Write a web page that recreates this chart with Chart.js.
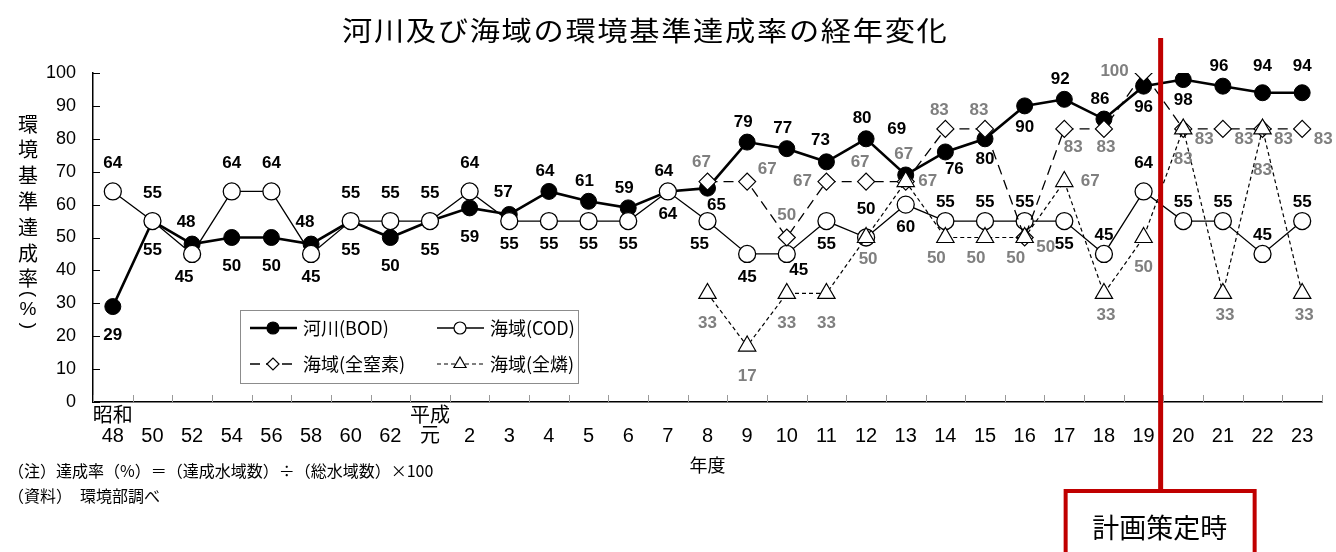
<!DOCTYPE html>
<html lang="ja">
<head>
<meta charset="utf-8">
<title>河川及び海域の環境基準達成率の経年変化</title>
<script src="https://cdn.jsdelivr.net/npm/chart.js@4.4.1/dist/chart.umd.min.js"></script>
<style>
  html, body { margin: 0; padding: 0; background: #fff; }
  #wrap { width: 1336px; height: 552px; }
</style>
</head>
<body>
<div id="wrap"><canvas id="chart" width="1336" height="552"></canvas></div>
<script>
// 年度ラベル（2行目が年）
const years = [
  ['昭和', '48'], ['', '50'], ['', '52'], ['', '54'], ['', '56'], ['', '58'], ['', '60'], ['', '62'],
  ['平成', '元'], ['', '2'], ['', '3'], ['', '4'], ['', '5'], ['', '6'], ['', '7'], ['', '8'],
  ['', '9'], ['', '10'], ['', '11'], ['', '12'], ['', '13'], ['', '14'], ['', '15'], ['', '16'],
  ['', '17'], ['', '18'], ['', '19'], ['', '20'], ['', '21'], ['', '22'], ['', '23']
];

// 達成率（%）
const riverBOD = [29, 55, 48, 50, 50, 48, 55, 50, 55, 59, 57, 64, 61, 59, 64, 65,
  79, 77, 73, 80, 69, 76, 80, 90, 92, 86, 96, 98, 96, 94, 94];
const seaCOD = [64, 55, 45, 64, 64, 45, 55, 55, 55, 64, 55, 55, 55, 55, 64, 55,
  45, 45, 55, 50, 60, 55, 55, 55, 55, 45, 64, 55, 55, 45, 55];
const seaN = [null, null, null, null, null, null, null, null, null, null, null, null, null, null, null,
  67, 67, 50, 67, 67, 67, 83, 83, 50, 83, 83, 100, 83, 83, 83, 83];
const seaP = [null, null, null, null, null, null, null, null, null, null, null, null, null, null, null,
  33, 17, 33, 33, 50, 67, 50, 50, 50, 67, 33, 50, 83, 33, 83, 33];

const seriesNames = ['河川(BOD)', '海域(COD)', '海域(全窒素)', '海域(全燐)'];
const yTicks = [0, 10, 20, 30, 40, 50, 60, 70, 80, 90, 100];

// データラベルの置き場所（a:上 b:下 r:右 l:左 など）
const bodPos = ['B','B','al','B','B','al','B','B','B','B','al','a','a','a','a','br',
  'a','a','al','a','AA','br','b','b','a','a','b','b','a','A','A'];
const codPos = ['A','A','bl','A','A','b','A','A','A','A','b','b','b','b','b','bl',
  'b','br','b','A','b','a','a','a','b','a','A','a','a','a','a'];
const nPos = [null, null, null, null, null, null, null, null, null, null, null, null, null, null, null,
  'al','r','a','l','al','A','al','al','rb','br','b','L','rb','rb','rb','rb'];
const pPos = [null, null, null, null, null, null, null, null, null, null, null, null, null, null, null,
  'B','B','B','B','b','r','bl','bl','bl','R','b','B','B','b','BB','b'];

const NUM = '"Liberation Sans", "Noto Sans CJK JP", sans-serif';
const JP = '"Noto Sans CJK JP", "Liberation Sans", sans-serif';
const GRAY = '#7f7f7f';

const datasets = [
  {
    label: seriesNames[0], data: riverBOD, order: 4,
    borderColor: '#000', borderWidth: 2.6,
    pointStyle: 'circle', pointRadius: 8, pointBackgroundColor: '#000', pointBorderColor: '#000', pointBorderWidth: 1,
    labelPos: bodPos, labelColor: '#000',
    offsets: { a: [-4, -20], A: [0, -26], al: [-6, -22], B: [0, 29], b: [0, 21], br: [9, 17], AA: [-9, -46] }
  },
  {
    label: seriesNames[1], data: seaCOD, order: 3,
    borderColor: '#000', borderWidth: 1.3,
    pointStyle: 'circle', pointRadius: 8.5, pointBackgroundColor: '#fff', pointBorderColor: '#000', pointBorderWidth: 1.3,
    labelPos: codPos, labelColor: '#000',
    offsets: { A: [0, -28], a: [0, -19], b: [0, 23], bl: [-8, 23], br: [12, 16] }
  },
  {
    label: seriesNames[2], data: seaN, order: 2,
    borderColor: '#000', borderWidth: 1.3, borderDash: [10, 6],
    pointStyle: 'rectRot', pointRadius: 8.5, pointBackgroundColor: '#fff', pointBorderColor: '#000', pointBorderWidth: 1.2,
    labelPos: nPos, labelColor: GRAY,
    offsets: { al: [-6, -19], r: [20, -12], a: [0, -22], l: [-24, 0], A: [-2, -27], rb: [21, 10], br: [9, 18], b: [2, 18], L: [-29, -2] }
  },
  {
    label: seriesNames[3], data: seaP, order: 1,
    borderColor: '#000', borderWidth: 1.2, borderDash: [4, 3],
    pointStyle: 'triangle', pointRadius: 10, pointBackgroundColor: '#fff', pointBorderColor: '#000', pointBorderWidth: 1.2,
    labelPos: pPos, labelColor: GRAY,
    offsets: { B: [0, 30], b: [2, 22], r: [22, 0], R: [26, 0], bl: [-9, 21], BB: [0, 41] }
  }
];

// 数値ラベル
const valueLabels = {
  id: 'valueLabels',
  afterDatasetsDraw(chart) {
    const ctx = chart.ctx;
    ctx.save();
    ctx.font = 'bold 17px ' + NUM;
    ctx.textAlign = 'center';
    ctx.textBaseline = 'middle';
    chart.data.datasets.forEach((ds, di) => {
      const meta = chart.getDatasetMeta(di);
      meta.data.forEach((pt, i) => {
        const v = ds.data[i];
        const code = ds.labelPos[i];
        if (v == null || !code) return;
        const off = ds.offsets[code] || [0, 0];
        ctx.fillStyle = ds.labelColor;
        ctx.fillText(String(v), pt.x + off[0], pt.y + off[1]);
      });
    });
    ctx.restore();
  }
};

// 表題・軸名・凡例・注記・計画策定時の線
const decorations = {
  id: 'decorations',
  afterDraw(chart) {
    const ctx = chart.ctx;
    const x = chart.scales.x, y = chart.scales.y;
    const area = chart.chartArea;
    ctx.save();

    // 内向きの目盛り
    const step = x.getPixelForValue(1) - x.getPixelForValue(0);
    ctx.strokeStyle = '#9a9a9a';
    ctx.lineWidth = 1;
    for (let i = 0; i <= years.length; i++) {
      const px = Math.round(x.getPixelForValue(i) - step / 2) + 0.5;
      ctx.beginPath(); ctx.moveTo(px, area.bottom); ctx.lineTo(px, area.bottom - 7); ctx.stroke();
    }
    ctx.strokeStyle = '#000';
    yTicks.forEach(v => {
      const py = Math.round(y.getPixelForValue(v)) + 0.5;
      ctx.beginPath(); ctx.moveTo(area.left, py); ctx.lineTo(area.left + 7, py); ctx.stroke();
    });

    // 表題（横長の字形）
    ctx.fillStyle = '#000';
    ctx.save();
    ctx.translate(342, 31);
    ctx.scale(1.12, 1);
    ctx.font = '27px ' + JP;
    ctx.letterSpacing = '1.5px';
    ctx.textAlign = 'left';
    ctx.textBaseline = 'middle';
    ctx.fillText('河川及び海域の環境基準達成率の経年変化', 0, 0);
    ctx.restore();
    ctx.letterSpacing = '0px';
    ctx.textBaseline = 'middle';

    // 縦書きの軸名
    ctx.font = '20px ' + JP;
    ctx.textAlign = 'center';
    const chars = ['環', '境', '基', '準', '達', '成', '率'];
    chars.forEach((c, i) => ctx.fillText(c, 28, 124 + i * 25.8));
    ctx.font = '19px ' + NUM;
    ctx.save(); ctx.translate(28, 294); ctx.rotate(Math.PI / 2); ctx.fillText('(', 0, 0); ctx.restore();
    ctx.fillText('%', 28, 310);
    ctx.save(); ctx.translate(28, 326); ctx.rotate(Math.PI / 2); ctx.fillText(')', 0, 0); ctx.restore();

    // 凡例
    ctx.strokeStyle = '#8c8c8c';
    ctx.lineWidth = 1;
    ctx.strokeRect(240.5, 310.5, 338, 73);
    const items = [
      { ds: 0, x: 250, y: 328 }, { ds: 1, x: 437, y: 328 },
      { ds: 2, x: 250, y: 364 }, { ds: 3, x: 437, y: 364 }
    ];
    items.forEach(it => {
      const ds = chart.data.datasets[it.ds];
      ctx.strokeStyle = '#000';
      ctx.lineWidth = ds.borderWidth;
      ctx.setLineDash(ds.borderDash || []);
      ctx.beginPath(); ctx.moveTo(it.x, it.y); ctx.lineTo(it.x + 47, it.y); ctx.stroke();
      ctx.setLineDash([]);
      ctx.lineWidth = 1.2;
      ctx.fillStyle = ds.pointBackgroundColor;
      Chart.helpers.drawPoint(ctx, { pointStyle: ds.pointStyle, radius: ds.pointStyle === 'triangle' ? 7 : 6, rotation: 0, borderWidth: 1.2 }, it.x + 23, it.y);
      ctx.fillStyle = '#000';
      ctx.font = '18px ' + JP;
      ctx.textAlign = 'left';
      ctx.fillText(ds.label, it.x + 53, it.y);
    });

    // 注記
    ctx.font = '16px ' + JP;
    ctx.textAlign = 'left';
    ctx.fillText('（注）達成率（%）＝（達成水域数）÷（総水域数）×100', 8, 471);
    ctx.fillText('（資料）　環境部調べ', 8, 496);

    // 計画策定時
    const lx = x.getPixelForValue(26) + step * 0.43;
    ctx.strokeStyle = '#c00000';
    ctx.lineWidth = 5;
    ctx.beginPath(); ctx.moveTo(lx, 38); ctx.lineTo(lx, 491); ctx.stroke();
    ctx.lineWidth = 4;
    ctx.strokeRect(lx - 95, 491, 189, 70);
    ctx.fillStyle = '#000';
    ctx.font = '27px ' + JP;
    ctx.textAlign = 'center';
    ctx.fillText('計画策定時', lx - 1, 528);

    ctx.restore();
  }
};

new Chart(document.getElementById('chart').getContext('2d'), {
  type: 'line',
  data: { labels: years, datasets: datasets },
  plugins: [valueLabels, decorations],
  options: {
    responsive: false,
    animation: false,
    layout: { padding: { top: 73, right: 14, left: 0, bottom: 0 } },
    plugins: { legend: { display: false }, tooltip: { enabled: false } },
    elements: { line: { tension: 0 } },
    scales: {
      x: {
        offset: true,
        afterFit: s => { s.height = 150; },
        grid: { drawOnChartArea: false, drawTicks: false },
        border: { display: true, color: '#000', width: 1.5 },
        ticks: {
          color: '#000', autoSkip: false, maxRotation: 0, minRotation: 0, padding: 4,
          font: { family: NUM, size: 20, lineHeight: 1.0 }
        },
        title: {
          display: true, text: '年度', color: '#000',
          font: { family: JP, size: 18, lineHeight: 1.2 },
          padding: { top: 0, bottom: 76 }
        }
      },
      y: {
        min: 0, max: 100,
        afterFit: s => { s.width = 93; },
        grid: { drawOnChartArea: false, drawTicks: false },
        border: { display: true, color: '#000', width: 1.5 },
        ticks: { stepSize: 10, color: '#000', padding: 17, font: { family: NUM, size: 18 } }
      }
    }
  }
});
</script>
</body>
</html>
